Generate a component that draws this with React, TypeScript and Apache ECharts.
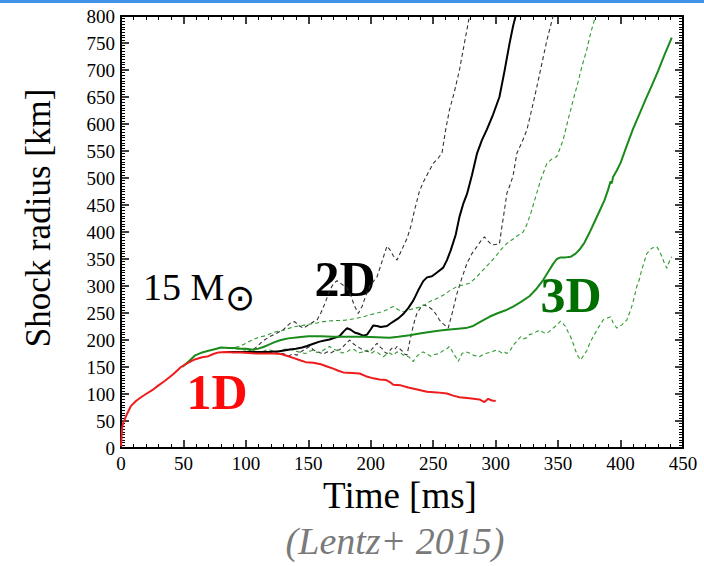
import React, { useEffect, useRef } from "react";
import * as echarts from "echarts";

// Shock radius [km] versus time after bounce [ms]; each point is [time, radius].
const radius1D: number[][] = [
  [0, 3], [1, 39], [2, 48], [3, 53], [5, 64], [8, 78], [12, 87], [16, 94], [20, 100], [25, 107],
  [30, 116], [35, 124], [42, 137], [48, 150], [54, 158], [59, 164], [65, 168], [70, 170],
  [74, 174], [78, 177], [84, 178], [90, 177], [96, 177], [102, 176], [108, 175], [115, 175],
  [122, 175], [128, 174], [134, 170], [139, 166], [144, 162], [148, 159], [154, 158],
  [160, 155], [165, 151], [170, 147], [174, 143], [178, 140], [185, 139], [191, 138],
  [196, 133], [202, 129], [207, 127], [212, 126], [216, 121], [218, 117], [224, 116],
  [230, 112], [238, 108], [245, 104], [253, 103], [261, 101], [266, 97], [271, 94], [279, 92],
  [287, 90], [291, 85], [294, 91], [297, 88], [300, 87],
];

const radius2D: number[][] = [
  [84, 178], [92, 178], [100, 178], [110, 178], [118, 178], [127, 179], [134, 182], [140, 184],
  [145, 186], [149, 189], [154, 193], [159, 197], [163, 199], [167, 201], [171, 204], [175, 207],
  [178, 215], [181, 222], [184, 219], [187, 214], [191, 211], [194, 208], [197, 210], [200, 220],
  [202, 227], [205, 226], [208, 224], [213, 226], [216, 231], [218, 234], [222, 240], [226, 248],
  [230, 259], [234, 273], [238, 292], [242, 309], [245, 316], [249, 318], [253, 325], [258, 334],
  [261, 348], [264, 366], [268, 395], [271, 428], [274, 452], [277, 470], [281, 505], [285, 545],
  [289, 570], [293, 590], [298, 618], [303, 650], [307, 697], [311, 748], [314, 782], [316, 800],
];

const radius2DdashA: number[][] = [
  [84, 178], [95, 178], [100, 178], [105, 181], [109, 188], [114, 199], [119, 206], [125, 213],
  [130, 219], [133, 226], [136, 232], [139, 234], [143, 226], [146, 222], [151, 229], [155, 235],
  [157, 237], [160, 250], [163, 266], [167, 291], [170, 304], [173, 310], [177, 303], [181, 296],
  [184, 282], [187, 263], [190, 249], [193, 262], [196, 282], [199, 299], [202, 308], [205, 317],
  [208, 338], [211, 360], [213, 374], [216, 365], [218, 356], [221, 348], [225, 368], [229, 388],
  [232, 410], [235, 440], [239, 476], [242, 492], [246, 510], [250, 527], [254, 537], [257, 546],
  [260, 590], [263, 626], [267, 660], [271, 700], [275, 750], [279, 800],
];

const radius2DdashB: number[][] = [
  [84, 178], [95, 178], [105, 176], [112, 178], [118, 177], [125, 176], [130, 175], [134, 170],
  [137, 174], [141, 172], [144, 178], [148, 184], [151, 188], [154, 182], [157, 178], [160, 176],
  [162, 174], [165, 178], [168, 176], [171, 180], [175, 182], [178, 188], [181, 195], [183, 200],
  [186, 193], [189, 188], [192, 184], [195, 180], [199, 178], [202, 186], [205, 194], [207, 188],
  [209, 184], [211, 178], [213, 175], [215, 180], [217, 185], [219, 182], [221, 188], [223, 184],
  [225, 180], [227, 174], [229, 172], [231, 195], [233, 216], [235, 235], [237, 250], [240, 260],
  [242, 265], [246, 262], [250, 255], [253, 245], [255, 237], [258, 230], [262, 222], [265, 248],
  [269, 286], [273, 315], [277, 342], [281, 360], [285, 373], [288, 383], [291, 391], [294, 383],
  [297, 376], [300, 377], [303, 378], [305, 410], [307, 440], [309, 472], [312, 490], [314, 505],
  [317, 546], [321, 566], [325, 589], [329, 628], [333, 669], [337, 712], [341, 755], [346, 800],
];

const radius3D: number[][] = [
  [49, 150], [55, 162], [59, 171], [65, 177], [70, 180], [75, 183], [80, 186], [86, 185],
  [91, 185], [96, 184], [100, 184], [106, 182], [110, 184], [114, 187], [118, 191], [123, 196],
  [128, 200], [134, 203], [142, 205], [150, 207], [160, 207], [170, 206], [182, 206], [194, 206],
  [205, 205], [215, 204], [222, 206], [231, 209], [239, 212], [247, 215], [254, 217], [261, 219],
  [270, 221], [276, 222], [282, 226], [288, 234], [295, 243], [301, 249], [308, 255], [314, 262],
  [320, 270], [327, 281], [332, 293], [338, 311], [342, 326], [346, 341], [349, 350], [352, 353],
  [356, 353], [360, 354], [364, 360], [367, 367], [371, 380], [375, 398], [379, 418], [383, 438],
  [387, 458], [390, 478], [392, 494], [393, 490], [394, 502], [397, 514], [400, 528], [405, 560],
  [410, 591], [415, 618], [420, 645], [425, 671], [430, 698], [435, 727], [441, 760],
];

const radius3DdashA: number[][] = [
  [86, 185], [90, 186], [95, 188], [100, 194], [105, 200], [110, 205], [116, 208], [122, 214],
  [130, 218], [135, 222], [140, 225], [145, 227], [150, 229], [156, 231], [162, 234], [170, 236],
  [176, 236], [181, 237], [188, 240], [194, 243], [200, 247], [207, 251], [213, 256], [218, 262],
  [222, 256], [226, 252], [231, 256], [236, 259], [241, 262], [247, 271], [252, 276], [258, 283],
  [263, 291], [269, 299], [274, 302], [279, 305], [285, 317], [290, 330], [295, 342], [300, 355],
  [304, 367], [309, 379], [314, 387], [318, 394], [322, 400], [325, 414], [328, 434], [332, 465],
  [336, 496], [341, 527], [345, 535], [349, 540], [354, 570], [358, 608], [362, 644], [366, 678],
  [369, 706], [373, 738], [376, 768], [380, 800],
];

const radius3DdashB: number[][] = [
  [86, 185], [92, 184], [98, 182], [103, 180], [108, 176], [113, 178], [117, 182], [120, 181],
  [124, 178], [128, 181], [131, 183], [135, 184], [139, 180], [142, 178], [145, 176], [148, 175],
  [151, 179], [154, 181], [157, 177], [160, 178], [164, 184], [167, 188], [170, 183], [174, 180],
  [177, 176], [181, 178], [184, 183], [187, 182], [190, 176], [194, 178], [197, 181], [200, 175],
  [203, 179], [205, 178], [208, 172], [210, 169], [213, 174], [215, 176], [218, 172], [221, 178],
  [224, 176], [226, 172], [229, 170], [231, 168], [233, 162], [234, 160], [236, 168], [238, 172],
  [240, 176], [242, 178], [245, 174], [248, 170], [251, 173], [255, 175], [257, 179], [260, 182],
  [263, 188], [265, 180], [267, 172], [269, 165], [270, 160], [272, 170], [273, 175], [276, 178],
  [279, 176], [282, 172], [285, 170], [287, 169], [290, 173], [292, 175], [295, 177], [297, 178],
  [299, 180], [301, 182], [303, 179], [305, 176], [307, 178], [309, 175], [312, 182], [314, 190],
  [317, 198], [320, 206], [322, 202], [325, 204], [327, 210], [330, 212], [333, 216], [336, 218],
  [338, 214], [341, 212], [344, 218], [346, 222], [349, 228], [352, 235], [354, 230], [356, 225],
  [358, 215], [360, 206], [362, 194], [364, 180], [366, 170], [368, 163], [370, 170], [373, 180],
  [375, 192], [378, 206], [382, 222], [386, 237], [389, 240], [392, 243], [394, 232], [397, 222],
  [401, 228], [405, 237], [408, 255], [410, 270], [413, 299], [415, 312], [417, 330], [419, 345],
  [421, 360], [425, 370], [429, 373], [431, 365], [433, 355], [435, 343], [437, 333], [439, 345],
  [441, 354],
];

const TIME_MAX = 450;
const RADIUS_MAX = 800;
const MAJOR_STEP = 50;

const serif = "'Liberation Serif', 'Times New Roman', serif";

function makeAxis(max: number, minorSplit: number, position: string, labels: boolean) {
  return {
    type: "value",
    gridIndex: 0,
    position,
    min: 0,
    max,
    interval: MAJOR_STEP,
    axisLine: { show: true, onZero: false, lineStyle: { color: "#000", width: 2 } },
    axisTick: { show: true, inside: true, length: 8, lineStyle: { color: "#000", width: 1.5 } },
    minorTick: { show: true, splitNumber: minorSplit, length: 4, lineStyle: { color: "#000", width: 1 } },
    splitLine: { show: false },
    axisLabel: labels
      ? { show: true, fontFamily: serif, fontSize: 19, color: "#000", margin: 6 }
      : { show: false },
  };
}

function lineSeries(data: number[][], color: string, width: number, dashed: boolean) {
  return {
    type: "line",
    data,
    showSymbol: false,
    symbol: "none",
    lineStyle: { color, width, type: dashed ? [4, 3] : "solid" },
  };
}

export default function App() {
  const ref = useRef<HTMLDivElement>(null);

  useEffect(() => {
    const chart = echarts.init(ref.current!, null, { renderer: "svg" });
    chart.setOption({
      animation: false,
      backgroundColor: "#fff",
      grid: { left: 121, right: 21, top: 16, bottom: 118 },
      xAxis: [makeAxis(TIME_MAX, 5, "bottom", true), makeAxis(TIME_MAX, 5, "top", false)],
      yAxis: [makeAxis(RADIUS_MAX, 10, "left", true), makeAxis(RADIUS_MAX, 10, "right", false)],
      series: [
        lineSeries(radius2DdashA, "#333", 1.1, true),
        lineSeries(radius2DdashB, "#333", 1.1, true),
        lineSeries(radius3DdashA, "#2f9a2f", 1.1, true),
        lineSeries(radius3DdashB, "#2f9a2f", 1.1, true),
        lineSeries(radius2D, "#000", 2, false),
        lineSeries(radius3D, "#1a8a1a", 2, false),
        lineSeries(radius1D, "#ee1c1c", 2, false),
      ],
      graphic: [
        { type: "rect", left: 0, top: 0, shape: { width: 704, height: 3 }, style: { fill: "#4193ea" } },
        {
          type: "text", x: 38, y: 218, rotation: Math.PI / 2,
          style: { text: "Shock radius [km]", font: `35px ${serif}`, fill: "#000", align: "center", verticalAlign: "middle" },
        },
        {
          type: "text", x: 400, y: 495,
          style: { text: "Time [ms]", font: `37px ${serif}`, fill: "#000", align: "center", verticalAlign: "middle" },
        },
        {
          type: "text", x: 395, y: 541,
          style: { text: "(Lentz+ 2015)", font: `italic 38px ${serif}`, fill: "#7a7a7a", align: "center", verticalAlign: "middle" },
        },
        {
          type: "text", x: 143, y: 287,
          style: { text: "15 M", font: `38px ${serif}`, fill: "#000", align: "left", verticalAlign: "middle" },
        },
        {
          type: "text", x: 240, y: 297,
          style: { text: "⊙", font: "36px 'DejaVu Sans'", fill: "#000", align: "center", verticalAlign: "middle" },
        },
        {
          type: "text", x: 345, y: 279,
          style: { text: "2D", font: `bold 50px ${serif}`, fill: "#000", align: "center", verticalAlign: "middle" },
        },
        {
          type: "text", x: 571, y: 295,
          style: { text: "3D", font: `bold 50px ${serif}`, fill: "#006e00", align: "center", verticalAlign: "middle" },
        },
        {
          type: "text", x: 217, y: 392,
          style: { text: "1D", font: `bold 50px ${serif}`, fill: "#ff0a0a", align: "center", verticalAlign: "middle" },
        },
      ],
    });
    return () => chart.dispose();
  }, []);

  return <div ref={ref} style={{ position: "fixed", left: 0, top: 0, width: 704, height: 566 }} />;
}
